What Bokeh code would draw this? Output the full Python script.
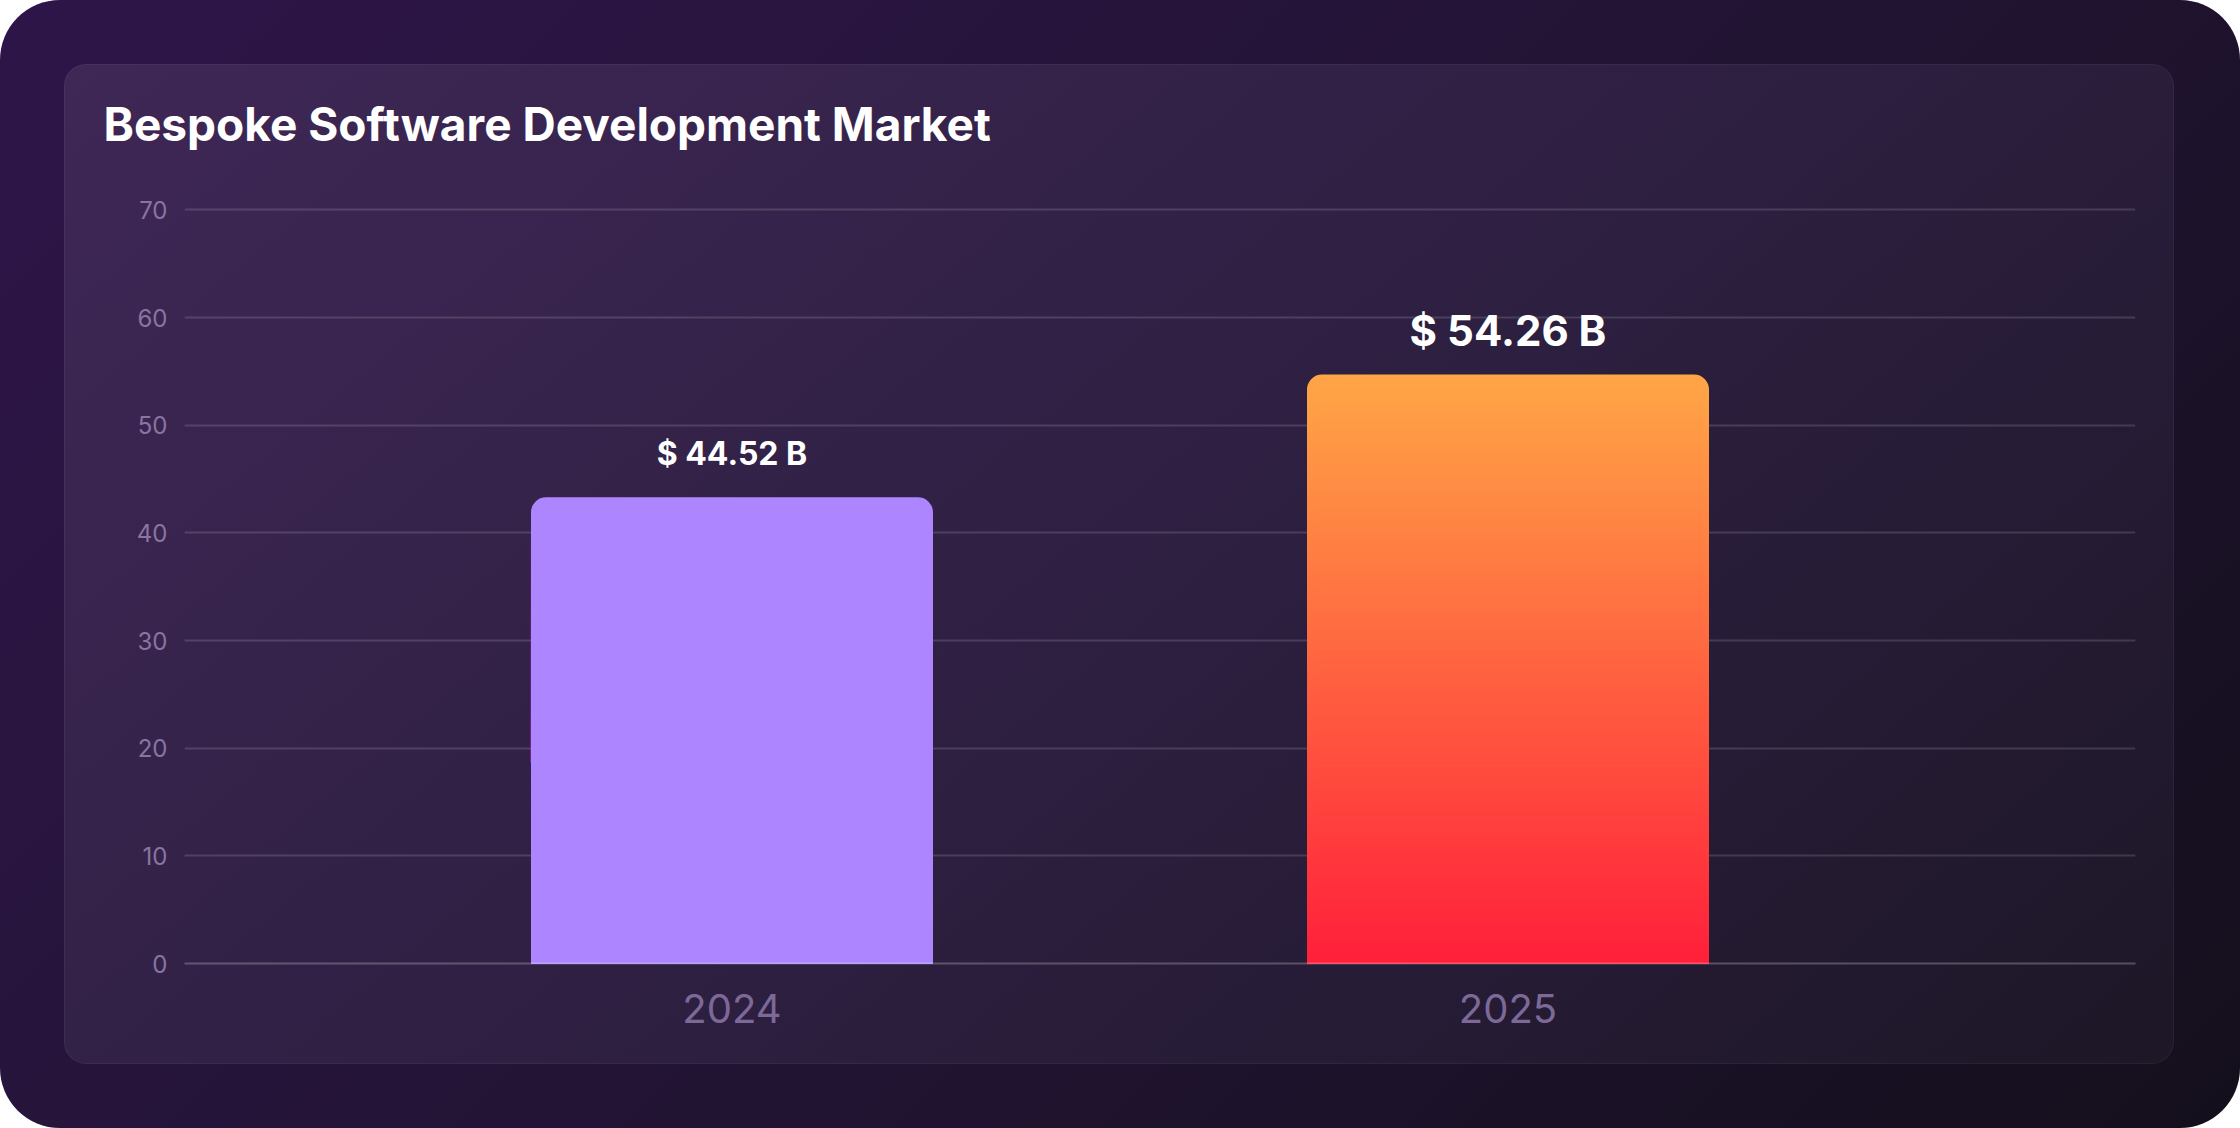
from bokeh.plotting import figure
from bokeh.models import Column, FixedTicker, Range1d, ColumnDataSource
from bokeh.embed import file_html
from bokeh.resources import INLINE
from bokeh.core.properties import value

# ---------------- data ----------------
title_text = "Bespoke Software Development Market"
years = ["2024", "2025"]
market_size = [43.3, 54.7]          # bar heights as drawn (USD billions)
value_labels = ["$ 44.52 B", "$ 54.26 B"]
y_ticks = [0, 10, 20, 30, 40, 50, 60, 70]

# ---------------- styles ----------------
bar_gradients = [("#ad86ff", "#ad86ff"), ("#ffa646", "#ff1f3a")]  # (top, bottom)
label_sizes = ["32px", "42px"]
N_SLICES = 120

x_pos = list(range(len(years)))


def hex_to_rgb(h):
    h = h.lstrip("#")
    return tuple(int(h[i:i + 2], 16) for i in (0, 2, 4))


def mix(c1, c2, t):
    a, b = hex_to_rgb(c1), hex_to_rgb(c2)
    return "#%02x%02x%02x" % tuple(round(a[k] + (b[k] - a[k]) * t) for k in range(3))


p = figure(
    width=2110, height=1000,
    output_backend="svg", toolbar_location=None,
    x_range=Range1d(-0.7055, 1.8086), y_range=Range1d(0, 72.73),
    min_border_left=120, min_border_right=39, min_border_top=0, min_border_bottom=101,
    border_fill_color=None, background_fill_color=None, outline_line_color=None,
    margin=(64, 66, 64, 64),
    styles={
        "background": "linear-gradient(140deg, #3f2756 0%, #2f2043 48%, #1d1727 100%)",
        "border-radius": "22px",
        "box-shadow": "inset 0 0 0 1px rgba(255,255,255,0.05)",
    },
)

# bars (vertical gradient built as stacked, progressively shorter bars)
bx, btop, bcol = [], [], []
for i, v in enumerate(market_size):
    top_c, bot_c = bar_gradients[i]
    for k in range(N_SLICES):
        frac_top = k / N_SLICES              # 0 at top of bar
        bx.append(x_pos[i])
        btop.append(v * (1 - frac_top))
        bcol.append(mix(top_c, bot_c, (k + 0.5) / N_SLICES))

bars = ColumnDataSource(dict(x=bx, top=btop, color=bcol))
p.vbar(x="x", top="top", bottom=0, width=0.518, source=bars,
       fill_color="color", line_color=None, border_radius=(15, 15, 0, 0))

# value labels
labels = ColumnDataSource(dict(x=x_pos, y=market_size, text=value_labels, size=label_sizes))
p.text(x="x", y="y", text="text", source=labels,
       text_font=value("Inter"), text_font_style="bold", text_font_size="size",
       text_color="#ffffff", text_align="center", text_baseline="alphabetic",
       y_offset=-44)

# grid
p.xgrid.visible = False
p.ygrid.ticker = FixedTicker(ticks=y_ticks)
p.ygrid.grid_line_color = "#ffffff"
p.ygrid.grid_line_alpha = 0.14
p.ygrid.grid_line_width = 2

# y axis
p.yaxis.ticker = FixedTicker(ticks=y_ticks)
p.yaxis.axis_line_color = None
p.yaxis.major_tick_line_color = None
p.yaxis.minor_tick_line_color = None
p.yaxis.major_tick_out = 0
p.yaxis.major_tick_in = 0
p.yaxis.major_label_standoff = 17
p.yaxis.major_label_text_font = "Inter"
p.yaxis.major_label_text_font_size = "24px"
p.yaxis.major_label_text_color = "#8a74a2"

# x axis
p.xaxis.ticker = FixedTicker(ticks=x_pos)
p.xaxis.major_label_overrides = {i: y for i, y in zip(x_pos, years)}
p.xaxis.axis_line_color = "#ffffff"
p.xaxis.axis_line_alpha = 0.24
p.xaxis.axis_line_width = 2
p.xaxis.major_tick_line_color = None
p.xaxis.minor_tick_line_color = None
p.xaxis.major_tick_out = 0
p.xaxis.major_tick_in = 0
p.xaxis.major_label_standoff = 30
p.xaxis.major_label_text_font = "Inter"
p.xaxis.major_label_text_font_size = "40px"
p.xaxis.major_label_text_color = "#7d6998"

# title
p.title.text = title_text
p.title.text_font = "Inter"
p.title.text_font_size = "46px"
p.title.text_font_style = "bold"
p.title.text_color = "#ffffff"
p.title.align = "left"
p.title.offset = -81
p.title.standoff = 58

root = Column(
    children=[p], width=2240, height=1128,
    styles={
        "background": "linear-gradient(135deg, #2e1549 0%, #231435 50%, #140f1c 100%)",
        "border-radius": "60px",
    },
)

open("out.html", "w").write(file_html(root, INLINE))
